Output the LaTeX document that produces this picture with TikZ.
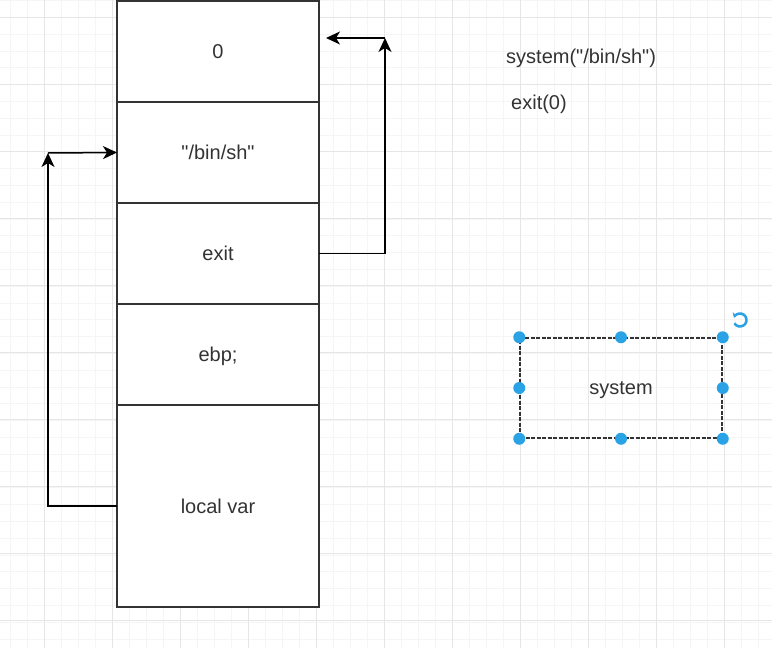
\documentclass[tikz,border=0pt]{standalone}
\usepackage{fontspec}
\setmainfont{Liberation Sans}[Ligatures=TeXOff]
\usepackage{tikz}
\usetikzlibrary{arrows.meta, positioning, calc}
\usepackage{xcolor}

\definecolor{cellline}{HTML}{333333}
\definecolor{handleblue}{HTML}{29A3E6}
\definecolor{gridline}{HTML}{E6E6E6}
\definecolor{gridminor}{HTML}{F5F5F5}

\tikzset{
  cell/.style={draw=cellline, line width=2pt, fill=white, minimum width=202pt, inner sep=0pt, outer sep=0pt, text depth=0pt, font=\fontsize{20}{24}\selectfont, text=cellline},
  link/.style={-{Stealth[length=14pt, width=13pt, inset=4pt]}, line width=1.5pt, black},
  note/.style={font=\fontsize{20}{24}\selectfont, text=cellline, inner sep=0pt},
  handle/.style={circle, fill=handleblue, inner sep=0pt, minimum size=12pt}
}

\begin{document}
\begin{tikzpicture}[x=1pt, y=-1pt]
      \useasboundingbox (0, 0) rectangle (772, 648);
      \fill[white] (0, 0) rectangle (772, 648);

      % grid
      \foreach \gx in {10.5,27.5,...,772} \draw[gridminor, line width=0.6pt] (\gx, 0) -- (\gx, 648);
      \foreach \gy in {0.5,17.3,...,648} \draw[gridminor, line width=0.6pt] (0, \gy) -- (772, \gy);
      \foreach \gx in {44,112,...,772} \draw[gridline, line width=1pt] (\gx, 0) -- (\gx, 648);
      \foreach \gy in {17,84,...,648} \draw[gridline, line width=1pt] (0, \gy) -- (772, \gy);

      % stack
      \node[cell, minimum height=101pt] (zero) at (218, 51.5) {0};
      \node[cell, minimum height=101pt, below=0pt of zero] (binsh) {"/bin/sh"};
      \node[cell, minimum height=101pt, below=0pt of binsh] (exitcell) {exit};
      \node[cell, minimum height=101pt, below=0pt of exitcell] (ebp) {ebp;};
      \node[cell, minimum height=202pt, below=0pt of ebp] (localvar) {local var};

      % calls
      \node[note, anchor=west] (syscall) at (506, 58) {system("/bin/sh")};
      \node[note, anchor=west] (exitcall) at (511, 104) {exit(0)};

      % links
      \coordinate (turnR) at (385, 38);
      \coordinate (retR) at (326, 38);
      \draw[link] (exitcell.east) -| (turnR);
      \draw[link] (turnR) -- (retR);

      \coordinate (turnL) at (48, 153);
      \draw[link] (localvar.west) -| (turnL);
      \draw[link] (turnL) -- (binsh.west);

      % selected box
      \node[draw=cellline, line width=1.5pt, dash pattern=on 4pt off 1.5pt, minimum width=202pt, minimum height=100pt, text depth=0pt, font=\fontsize{20}{24}\selectfont, text=cellline] (sysbox) at (621, 388) {system};
      \foreach \a in {north west, north, north east, east, south east, south, south west, west}
        \node[handle] at (sysbox.\a) {};
      \draw[handleblue, line width=2.5pt, -{Stealth[length=5pt, width=6pt]}] (740, 320) ++(150:6.5) arc[start angle=150, end angle=-160, radius=6.5];

    \end{tikzpicture}
\end{document}
